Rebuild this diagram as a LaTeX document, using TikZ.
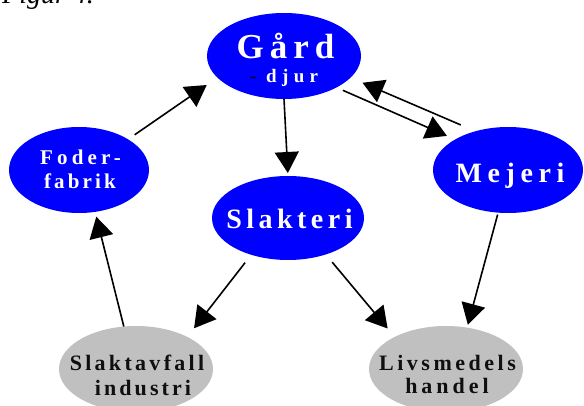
\documentclass[tikz,border=0pt]{standalone}
\usepackage{fontspec}
\setmainfont{Liberation Serif}
\newfontfamily\bfam{Liberation Serif Bold}
\usetikzlibrary{arrows.meta,shapes.geometric}
\definecolor{blueA}{RGB}{0,0,255}
\definecolor{grayA}{RGB}{192,192,192}
\definecolor{txtA}{RGB}{15,15,15}
\newcommand\txl[2]{\makebox[0pt]{\raisebox{#1}[0pt][0pt]{#2}}}
\newcommand\fsz[3]{\fontsize{#1}{#1}\selectfont\addfontfeature{LetterSpace=#2}#3}
\tikzset{
  ell/.style={ellipse, inner sep=0pt, outer sep=0pt, font=\bfam},
  blueell/.style={ell, fill=blueA, text=white},
  grayell/.style={ell, fill=grayA, text=txtA},
  arr/.style={line width=1.6pt, -{Triangle[length=21pt,width=24pt]}}
}
\begin{document}
\begin{tikzpicture}[x=1pt,y=-1pt]
\clip (0,0) rectangle (584,406);
\node[anchor=base west, inner sep=0pt, font=\fontsize{28}{32}\selectfont\itshape] (title) at (2,4) {Figur 4.};
\node[blueell, minimum width=154pt, minimum height=86pt] (gard) at (284,56)
  {\txl{-3pt}{\fsz{35}{17}{\hspace{3pt}Gård}}\txl{-27pt}{\fsz{19}{28}{{\color{black}-}\hspace{10pt}djur}}};
\node[blueell, minimum width=140pt, minimum height=86pt] (foder) at (79,170)
  {\txl{5pt}{\fsz{21}{20}{\hspace{3pt}Foder-}}\txl{-19pt}{\fsz{21}{15}{\hspace{2pt}fabrik}}};
\node[blueell, minimum width=152pt, minimum height=84pt] (slakt) at (288,218)
  {\txl{-11pt}{\fsz{28}{16}{\hspace{3pt}Slakteri}}};
\node[blueell, minimum width=150pt, minimum height=86pt] (mejeri) at (508,170)
  {\txl{-13pt}{\fsz{28}{20}{\hspace{4pt}Mejeri}}};
\node[grayell, minimum width=154pt, minimum height=86pt] (avfall) at (136,369)
  {\txl{-1pt}{\fsz{22}{15}{\hspace{2pt}Slaktavfall}}\txl{-26pt}{\fsz{22}{14}{\hspace{14pt}industri}}};
\node[grayell, minimum width=154pt, minimum height=86pt] (livs) at (446,369)
  {\txl{-1pt}{\fsz{22}{16}{\hspace{3pt}Livsmedels}}\txl{-24pt}{\fsz{22}{18}{\hspace{2pt}handel}}};
\draw[arr, shorten <=8pt, shorten >=13pt] (foder.32) -- (gard.198);
\draw[arr, shorten >=3pt] (gard.270) -- (slakt.90);
\draw[arr, shorten <=7pt, shorten >=9pt] (gard.-31) -- (mejeri.150);
\draw[arr, shorten <=16pt, shorten >=13pt] (mejeri.130) -- (gard.-18);
\draw[arr, shorten <=2pt, shorten >=3pt] (mejeri.257) -- (livs.63);
\draw[arr, shorten <=10pt, shorten >=11pt] (slakt.-44) -- (livs.148);
\draw[arr, shorten <=10pt, shorten >=11pt] (slakt.225) -- (avfall.32);
\draw[arr, shorten >=5pt] (avfall.106) -- (foder.-69);
\end{tikzpicture}
\end{document}
